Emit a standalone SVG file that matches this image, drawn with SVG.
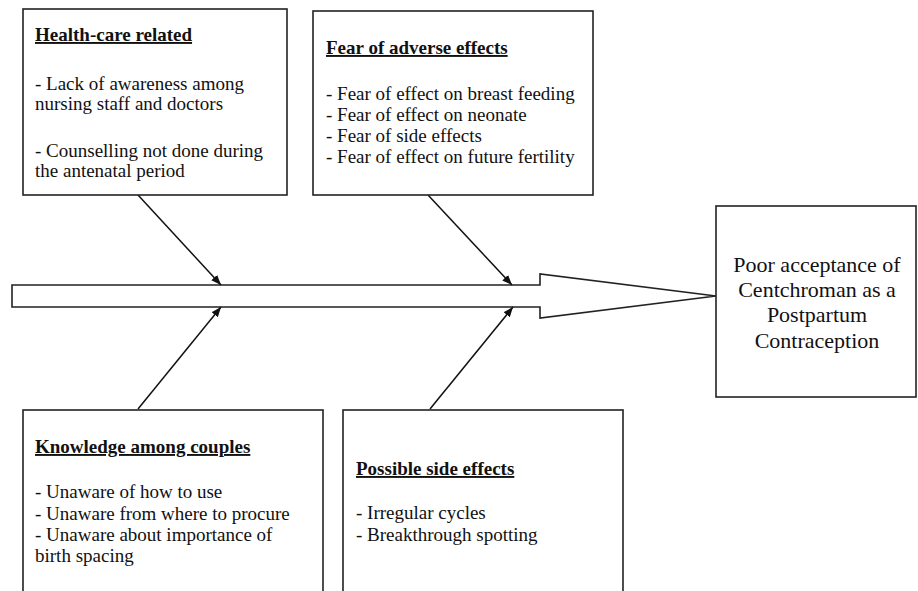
<svg xmlns="http://www.w3.org/2000/svg" width="918" height="591" viewBox="0 0 918 591">
<style>
.box{fill:#fff;stroke:#222;stroke-width:1.6}
.t{font-family:"Liberation Serif","Times New Roman",serif;font-size:19px;fill:#111}
.h{font-weight:bold;text-decoration:underline}
.c{font-family:"Liberation Serif","Times New Roman",serif;font-size:22px;fill:#111;text-anchor:middle}
.ln{stroke:#111;stroke-width:1.5;fill:none;marker-end:url(#ah)}
</style>
<defs>
<marker id="ah" viewBox="0 0 10 8" refX="10" refY="4" markerWidth="10" markerHeight="8" markerUnits="userSpaceOnUse" orient="auto">
<path d="M0,0 L10,4 L0,8 Z" fill="#111"/>
</marker>
</defs>
<rect width="918" height="591" fill="#fff"/>
<g id="spine">
<polygon points="12,285 540,285 540,274 716,296 540,318 540,307 12,307" fill="#fff" stroke="#222" stroke-width="1.6"/>
</g>
<g id="connectors">
<line class="ln" x1="138" y1="195" x2="221" y2="285"/>
<line class="ln" x1="428" y1="195" x2="512" y2="285"/>
<line class="ln" x1="138" y1="409" x2="221" y2="307"/>
<line class="ln" x1="430" y1="409" x2="513" y2="307"/>
</g>
<g id="health-care">
<rect class="box" x="23" y="9" width="264" height="186"/>
<text class="t h" x="35" y="41">Health-care related</text>
<text class="t" x="35" y="90">- Lack of awareness among</text>
<text class="t" x="35" y="110">nursing staff and doctors</text>
<text class="t" x="35" y="157">- Counselling not done during</text>
<text class="t" x="35" y="177">the antenatal period</text>
</g>
<g id="fear">
<rect class="box" x="313" y="11" width="280" height="184"/>
<text class="t h" x="326" y="54">Fear of adverse effects</text>
<text class="t" x="326" y="100">- Fear of effect on breast feeding</text>
<text class="t" x="326" y="121">- Fear of effect on neonate</text>
<text class="t" x="326" y="142">- Fear of side effects</text>
<text class="t" x="326" y="163">- Fear of effect on future fertility</text>
</g>
<g id="knowledge">
<rect class="box" x="23" y="410" width="300" height="200"/>
<text class="t h" x="35" y="453">Knowledge among couples</text>
<text class="t" x="35" y="498">- Unaware of how to use</text>
<text class="t" x="35" y="520">- Unaware from where to procure</text>
<text class="t" x="35" y="541">- Unaware about importance of</text>
<text class="t" x="35" y="562">birth spacing</text>
</g>
<g id="side-effects">
<rect class="box" x="343" y="410" width="280" height="200"/>
<text class="t h" x="356" y="475">Possible side effects</text>
<text class="t" x="356" y="519">- Irregular cycles</text>
<text class="t" x="356" y="541">- Breakthrough spotting</text>
</g>
<g id="outcome">
<rect class="box" x="716" y="206" width="200" height="191"/>
<text class="c" x="817" y="272">Poor acceptance of</text>
<text class="c" x="817" y="297">Centchroman as a</text>
<text class="c" x="817" y="322">Postpartum</text>
<text class="c" x="817" y="348">Contraception</text>
</g>
</svg>
